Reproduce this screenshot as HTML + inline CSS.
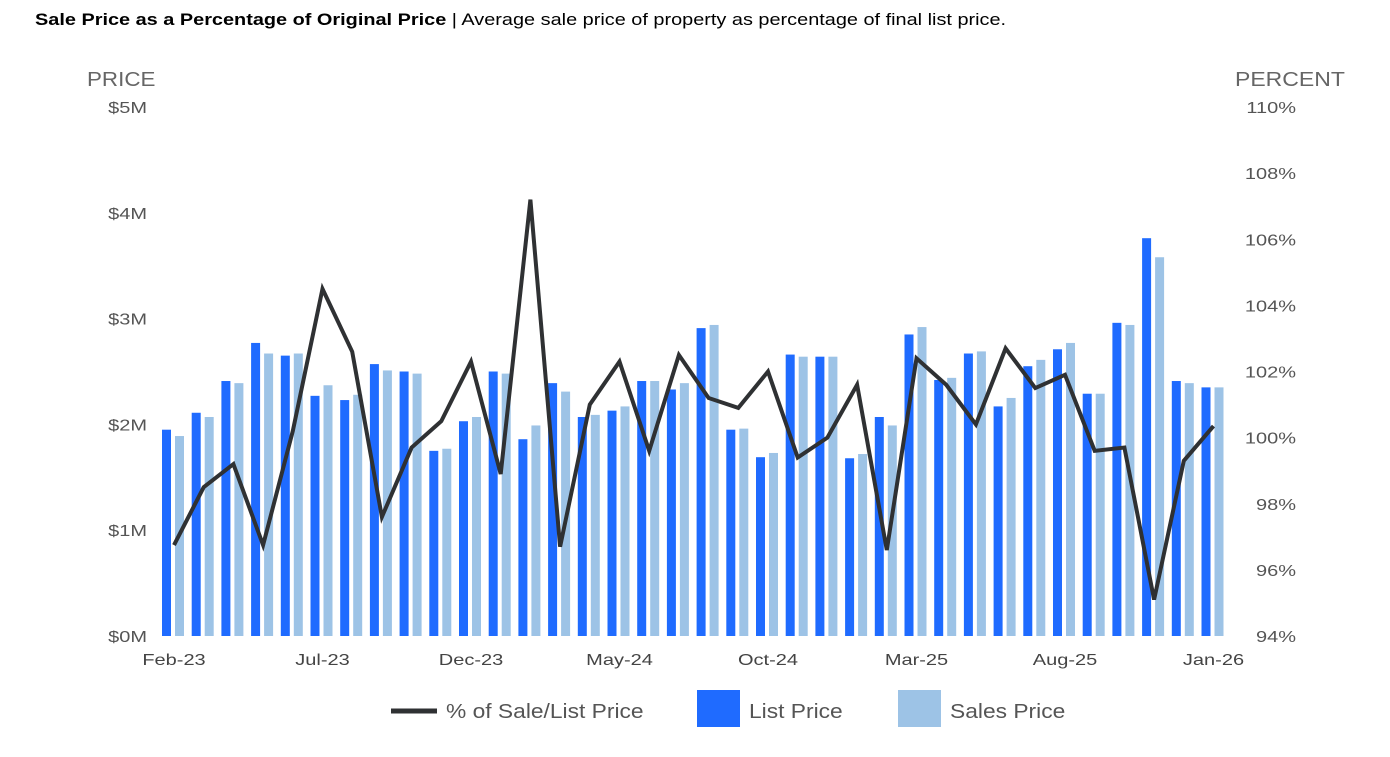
<!DOCTYPE html>
<html><head><meta charset="utf-8">
<style>
body{margin:0;background:#fff;font-family:"Liberation Sans",Arial,sans-serif;}
#title{position:absolute;left:35px;top:10px;font-size:17px;color:#000;white-space:nowrap;transform:scaleX(1.17);transform-origin:0 0;}
</style></head>
<body>
<div id="title"><b>Sale Price as a Percentage of Original Price</b> | Average sale price of property as percentage of final list price.</div>
<svg id="chart" width="1390" height="757" style="position:absolute;left:0;top:0"></svg>
<script>
const months=["Feb-23","Mar-23","Apr-23","May-23","Jun-23","Jul-23","Aug-23","Sep-23","Oct-23","Nov-23","Dec-23","Jan-24","Feb-24","Mar-24","Apr-24","May-24","Jun-24","Jul-24","Aug-24","Sep-24","Oct-24","Nov-24","Dec-24","Jan-25","Feb-25","Mar-25","Apr-25","May-25","Jun-25","Jul-25","Aug-25","Sep-25","Oct-25","Nov-25","Dec-25","Jan-26"];
const listPrice=[1.95,2.11,2.41,2.77,2.65,2.27,2.23,2.57,2.50,1.75,2.03,2.50,1.86,2.39,2.07,2.13,2.41,2.33,2.91,1.95,1.69,2.66,2.64,1.68,2.07,2.85,2.42,2.67,2.17,2.55,2.71,2.29,2.96,3.76,2.41,2.35];
const salesPrice=[1.89,2.07,2.39,2.67,2.67,2.37,2.28,2.51,2.48,1.77,2.07,2.48,1.99,2.31,2.09,2.17,2.41,2.39,2.94,1.96,1.73,2.64,2.64,1.72,1.99,2.92,2.44,2.69,2.25,2.61,2.77,2.29,2.94,3.58,2.39,2.35];
const pct=[96.75,98.5,99.2,96.75,100.2,104.5,102.6,97.6,99.7,100.5,102.3,98.9,107.2,96.7,101.0,102.3,99.6,102.5,101.2,100.9,102.0,99.4,100.0,101.6,96.6,102.4,101.6,100.4,102.7,101.5,101.9,99.6,99.7,95.1,99.3,100.35];
const leftTicks=["$0M","$1M","$2M","$3M","$4M","$5M"];
const rightTicks=["94%","96%","98%","100%","102%","104%","106%","108%","110%"];
const svg=document.getElementById('chart');const NS="http://www.w3.org/2000/svg";
function mk(t,a,p){const e=document.createElementNS(NS,t);for(const k in a)e.setAttribute(k,a[k]);(p||svg).appendChild(e);return e;}
function txt(s,x0,y0,size,sx,anchor,fill,p){const e=mk('text',{x:0,y:0,transform:`translate(${x0},${y0}) scale(${sx},1)`,'text-anchor':anchor,'font-size':size,fill:fill},p);e.textContent=s;return e;}
const x=i=>174+i*29.7;
const yL=v=>636-v*105.8;
const yR=v=>636-(v-94)*33.06;
leftTicks.forEach((t,i)=>{const e=txt(t,147,yL(i)+6,16,1.25,'end','#555');

});
rightTicks.forEach((t,i)=>{const e=txt(t,1296,yR(94+i*2)+6,16,1.25,'end','#555');

});
let e1=txt('PRICE',87,86,20,1.12,'start','#666');


let e2=txt('PERCENT',1235,86,20,1.15,'start','#666');


months.forEach((m,i)=>{
 const b1=mk('rect',{x:x(i)-12,y:yL(listPrice[i]),width:9,height:636-yL(listPrice[i]),fill:'#1f6bff'});
 
 
 const b2=mk('rect',{x:x(i)+1,y:yL(salesPrice[i]),width:9,height:636-yL(salesPrice[i]),fill:'#9dc3e6'});
 
 
 if(i%5===0){const t=txt(m,x(i),665,16,1.25,'middle','#444');
 
 }
});
const line=mk('polyline',{points:pct.map((v,i)=>x(i)+','+yR(v)).join(' '),fill:'none',stroke:'#2f3133','stroke-width':4,'stroke-linejoin':'miter'});


const lg=mk('g',{});
mk('line',{x1:391,y1:711,x2:437,y2:711,stroke:'#2f3133','stroke-width':5},lg);
txt('% of Sale/List Price',446,718,20,1.14,'start','#555',lg);
mk('rect',{x:697,y:690,width:43,height:37,fill:'#1f6bff'},lg);
txt('List Price',749,718,20,1.14,'start','#555',lg);
mk('rect',{x:898,y:690,width:43,height:37,fill:'#9dc3e6'},lg);
txt('Sales Price',950,718,20,1.14,'start','#555',lg);
</script>
</body></html>
